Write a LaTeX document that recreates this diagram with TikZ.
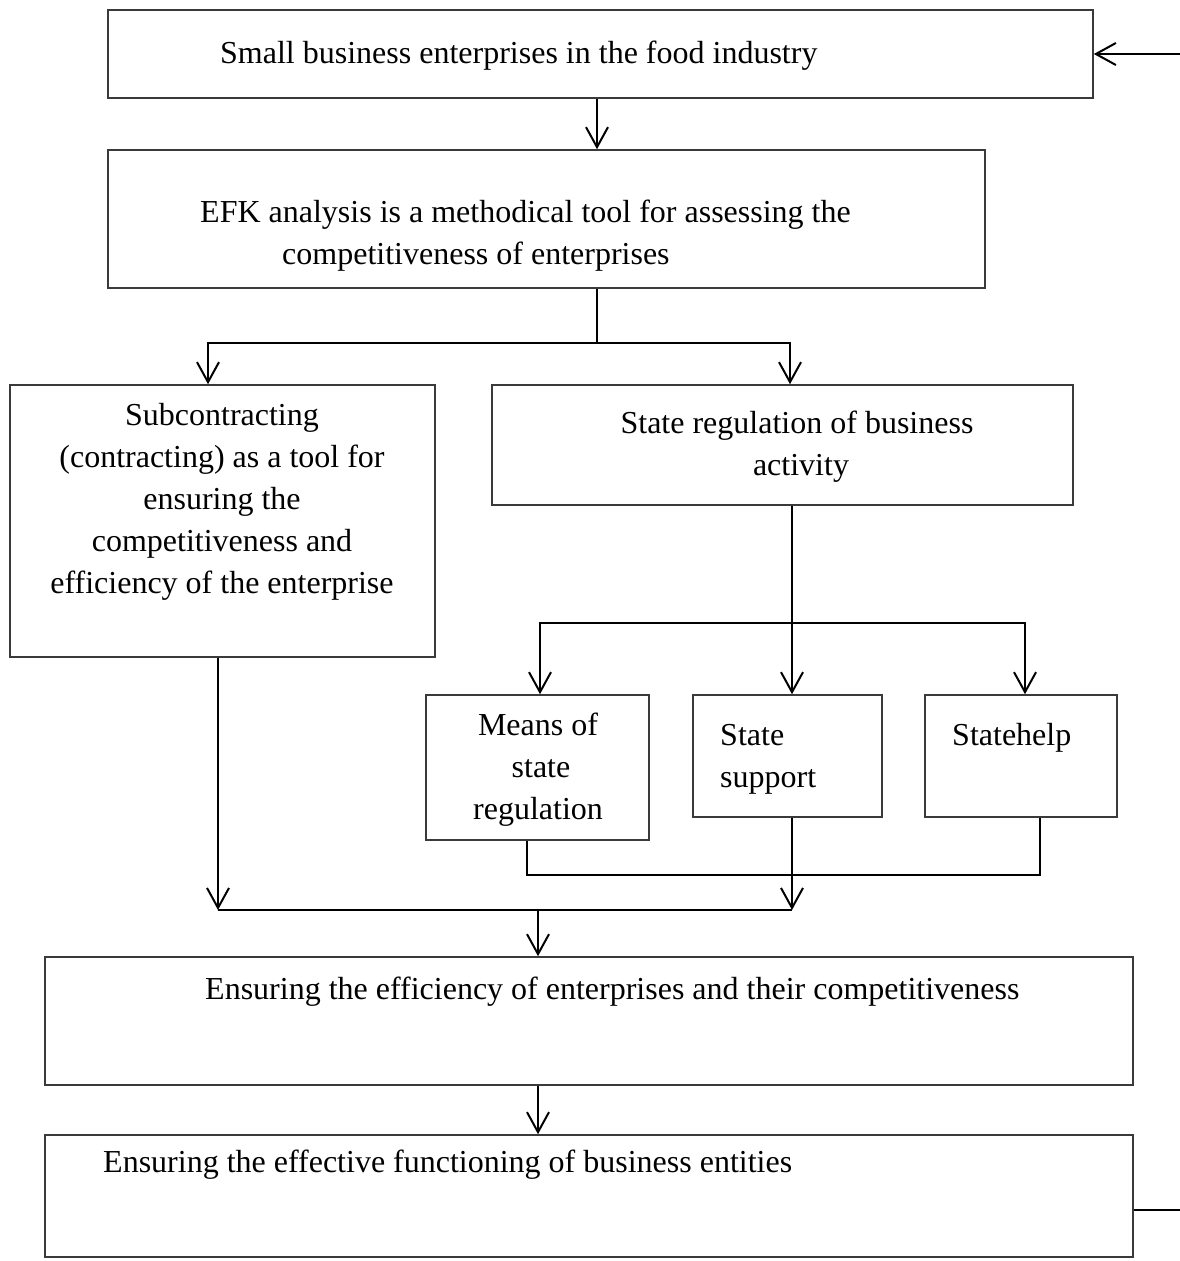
\documentclass[tikz,border=0pt]{standalone}
\usepackage{fontspec}
\setmainfont{Liberation Serif}
\usetikzlibrary{arrows.meta}
\definecolor{framegray}{HTML}{3A3A3A}
\begin{document}
\begin{tikzpicture}[x=1pt,y=-1pt,
  box/.style={draw=framegray,line width=1.6pt,rectangle,inner sep=0pt},
  txt/.style={inner sep=0pt,font=\fontsize{32}{42}\selectfont},
  link/.style={draw=black,line width=2pt},
  arr/.style={link,-{Straight Barb[length=20pt,width=22pt,line width=2pt]}}]
\useasboundingbox (0,0) rectangle (1180,1261);

% boxes
\node[box,minimum width=985pt,minimum height=88pt] (b1) at (600.5,54) {};
\node[box,minimum width=877pt,minimum height=138pt] (b2) at (546.5,219) {};
\node[box,minimum width=425pt,minimum height=272pt] (b3) at (222.5,521) {};
\node[box,minimum width=581pt,minimum height=120pt] (b4) at (782.5,445) {};
\node[box,minimum width=223pt,minimum height=145pt] (b5) at (537.5,767.5) {};
\node[box,minimum width=189pt,minimum height=122pt] (b6) at (787.5,756) {};
\node[box,minimum width=192pt,minimum height=122pt] (b7) at (1021,756) {};
\node[box,minimum width=1088pt,minimum height=128pt] (b8) at (589,1021) {};
\node[box,minimum width=1088pt,minimum height=122pt] (b9) at (589,1196) {};

% texts
\node[txt,anchor=base west] (t1) at (220,63) {Small business enterprises in the food industry};
\node[txt,anchor=base west] (t2a) at (200,222) {EFK analysis is a methodical tool for assessing the};
\node[txt,anchor=base west] (t2b) at (282,264) {competitiveness of enterprises};
\node[txt,anchor=base,align=center] (t3) at (222,425) {Subcontracting};
\node[txt,anchor=base] (t3b) at (222,467) {(contracting) as a tool for};
\node[txt,anchor=base] (t3c) at (222,509) {ensuring the};
\node[txt,anchor=base] (t3d) at (222,551) {competitiveness and};
\node[txt,anchor=base] (t3e) at (222,593) {efficiency of the enterprise};
\node[txt,anchor=base] (t4a) at (797,433) {State regulation of business};
\node[txt,anchor=base] (t4b) at (801,475) {activity};
\node[txt,anchor=base] (t5a) at (538,735) {Means of};
\node[txt,anchor=base] (t5b) at (541,777) {state};
\node[txt,anchor=base] (t5c) at (538,819) {regulation};
\node[txt,anchor=base west] (t6a) at (720,745) {State};
\node[txt,anchor=base west] (t6b) at (720,787) {support};
\node[txt,anchor=base west] (t7) at (952,745) {Statehelp};
\node[txt,anchor=base west] (t8) at (205,999) {Ensuring the efficiency of enterprises and their competitiveness};
\node[txt,anchor=base west] (t9) at (103,1172) {Ensuring the effective functioning of business entities};

% guide coordinates for the connector lanes
\coordinate (inR) at (1180,54);
\coordinate (outR) at (1180,1210);
\coordinate (xTop) at (597,0);
\coordinate (j1) at (597,343);
\coordinate (xa) at (208,0);
\coordinate (xb) at (790,0);
\coordinate (xc) at (792,0);
\coordinate (j2) at (792,623);
\coordinate (xd) at (540,0);
\coordinate (xe) at (1025,0);
\coordinate (xf) at (527,0);
\coordinate (xg) at (1040,0);
\coordinate (yj) at (0,875);
\coordinate (xh) at (218,0);
\coordinate (jm) at (538,910);

% connectors
\draw[arr] (inR) -- (b1.east |- inR);
\draw[arr] (b1.south -| xTop) -- (b2.north -| xTop);
\draw[link] (b2.south -| xTop) -- (j1);
\draw[arr] (j1) -- (j1 -| xa) -- (b3.north -| xa);
\draw[arr] (j1) -- (j1 -| xb) -- (b4.north -| xb);
\draw[arr] (b4.south -| xc) -- (b6.north -| xc);
\draw[arr] (j2) -- (j2 -| xd) -- (b5.north -| xd);
\draw[arr] (j2) -- (j2 -| xe) -- (b7.north -| xe);
\draw[link] (b5.south -| xf) -- (xf |- yj) -- (xg |- yj) -- (b7.south -| xg);
\draw[arr] (b6.south -| xc) -- (xc |- jm);
\draw[arr] (b3.south -| xh) -- (xh |- jm);
\draw[link] (xh |- jm) -- (xc |- jm);
\draw[arr] (jm) -- (b8.north -| jm);
\draw[arr] (b8.south -| jm) -- (b9.north -| jm);
\draw[link] (b9.east |- outR) -- (outR);
\end{tikzpicture}
\end{document}
